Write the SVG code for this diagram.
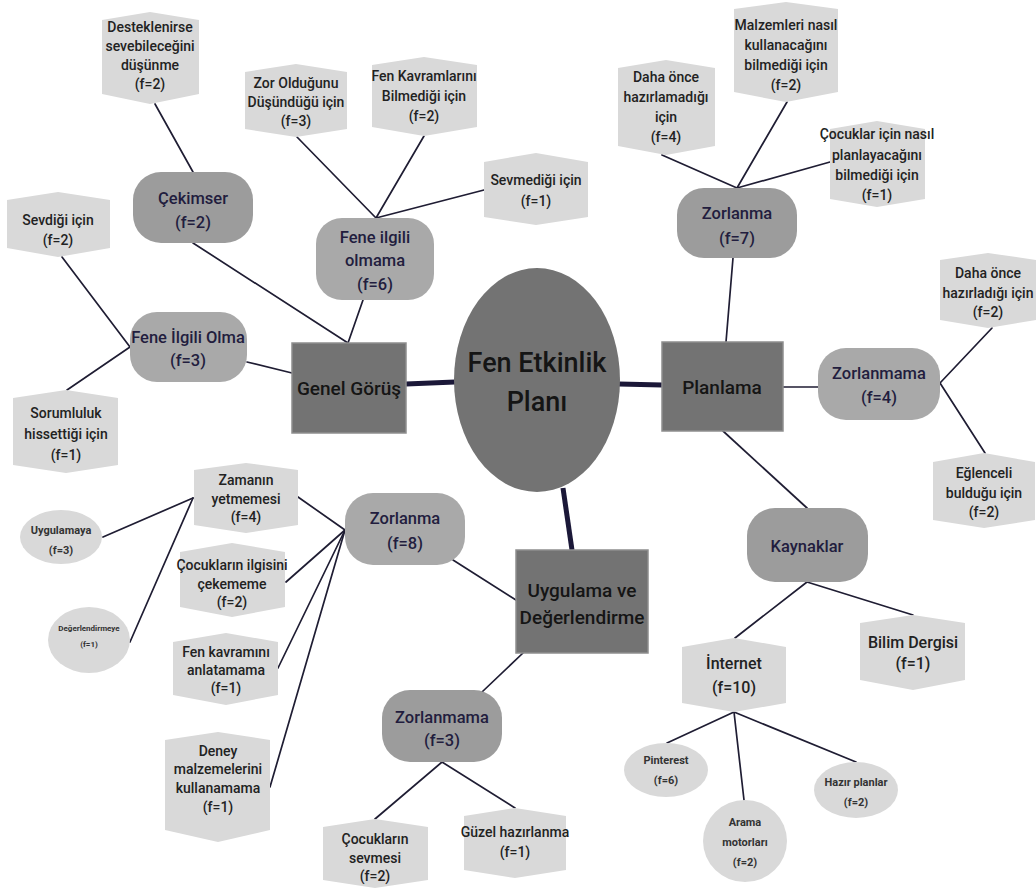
<svg xmlns="http://www.w3.org/2000/svg" width="1036" height="890" viewBox="0 0 1036 890">
<style>
text{font-family:Roboto,"Liberation Sans",Arial,sans-serif;text-anchor:middle;dominant-baseline:central}
.hx{fill:#d9d9d9}
.hx-t{font-size:14px;font-weight:500;fill:#222}
.big-t{font-size:16px;font-weight:500;fill:#222}
.rr1{fill:#9c9c9c}
.rr2{fill:#a9a9a9}
.rr-t{font-size:16.5px;font-weight:500;fill:#221d3e}
.bx{fill:#737373;stroke:#8e8e8e;stroke-width:1.5}
.bx-t{font-size:19px;font-weight:500;fill:#151515}
.ce-t{font-size:27px;font-weight:500;fill:#151515}
.el{fill:#d9d9d9}
.el-t{font-size:11px;font-weight:700;fill:#333}
.ln{stroke:#1f1d33;stroke-width:1.7;fill:none;stroke-linecap:round}
.tk{stroke:#1b1838;stroke-width:5;fill:none}
</style>
<rect width="1036" height="890" fill="#ffffff"/>
<g id="connectors">
<line class="ln" x1="155" y1="104" x2="193" y2="172"/>
<line class="ln" x1="193" y1="243" x2="348" y2="343"/>
<line class="ln" x1="363" y1="300" x2="348" y2="343"/>
<line class="ln" x1="297" y1="137" x2="376" y2="218"/>
<line class="ln" x1="424" y1="136" x2="376" y2="218"/>
<line class="ln" x1="484" y1="190" x2="376" y2="218"/>
<line class="ln" x1="62" y1="257" x2="130" y2="347"/>
<line class="ln" x1="130" y1="347" x2="67" y2="390"/>
<line class="ln" x1="247" y1="362" x2="292" y2="373"/>
<line class="ln" x1="662" y1="155" x2="737" y2="188"/>
<line class="ln" x1="787" y1="102" x2="737" y2="188"/>
<line class="ln" x1="830" y1="162" x2="737" y2="188"/>
<line class="ln" x1="733" y1="258" x2="726" y2="342"/>
<line class="ln" x1="783" y1="387" x2="818" y2="387"/>
<line class="ln" x1="940" y1="383" x2="992" y2="328"/>
<line class="ln" x1="940" y1="383" x2="985" y2="453"/>
<line class="ln" x1="723" y1="431" x2="807" y2="508"/>
<line class="ln" x1="807" y1="582" x2="735" y2="638"/>
<line class="ln" x1="807" y1="582" x2="913" y2="615"/>
<line class="ln" x1="734" y1="712" x2="667" y2="743"/>
<line class="ln" x1="734" y1="712" x2="744" y2="800"/>
<line class="ln" x1="734" y1="712" x2="856" y2="762"/>
<line class="ln" x1="453" y1="560" x2="516" y2="600"/>
<line class="ln" x1="523" y1="653" x2="482" y2="692"/>
<line class="ln" x1="442" y1="762" x2="375" y2="819"/>
<line class="ln" x1="442" y1="762" x2="515" y2="808"/>
<line class="ln" x1="103" y1="537" x2="193" y2="498"/>
<line class="ln" x1="130" y1="642" x2="193" y2="498"/>
<line class="ln" x1="298" y1="497" x2="345" y2="530"/>
<line class="ln" x1="286" y1="582" x2="345" y2="530"/>
<line class="ln" x1="278" y1="668" x2="345" y2="530"/>
<line class="ln" x1="270" y1="787" x2="345" y2="530"/>
<line class="tk" x1="406" y1="384" x2="455" y2="382"/>
<line class="tk" x1="619" y1="384" x2="662" y2="385"/>
<line class="tk" x1="563" y1="488" x2="572" y2="550"/>
</g>

<g id="center">
<ellipse cx="537" cy="380" rx="83" ry="112" fill="#737373"/>
<text class="ce-t" x="537" y="363">Fen Etkinlik</text>
<text class="ce-t" x="537" y="402">Planı</text>
</g>

<g id="genel-gorus">
<rect class="bx" x="292" y="343" width="114" height="90"/>
<text class="bx-t" x="349" y="388">Genel Görüş</text>
</g>
<g id="planlama">
<rect class="bx" x="662" y="342" width="121" height="89"/>
<text class="bx-t" x="722" y="387">Planlama</text>
</g>
<g id="uygulama">
<rect class="bx" x="516" y="550" width="132" height="103"/>
<text class="bx-t" x="582" y="590">Uygulama ve</text>
<text class="bx-t" x="582" y="617">Değerlendirme</text>
</g>

<g id="cekimser">
<rect class="rr1" x="133" y="172" width="120" height="71" rx="28"/>
<text class="rr-t" x="193" y="198">Çekimser</text>
<text class="rr-t" x="193" y="222">(f=2)</text>
</g>
<g id="fene-ilgili-olmama">
<rect class="rr2" x="316" y="218" width="118" height="82" rx="26"/>
<text class="rr-t" x="375" y="237">Fene ilgili</text>
<text class="rr-t" x="375" y="260">olmama</text>
<text class="rr-t" x="375" y="284">(f=6)</text>
</g>
<g id="fene-ilgili-olma">
<rect class="rr2" x="130" y="312" width="117" height="70" rx="27"/>
<text class="rr-t" x="188" y="337">Fene İlgili Olma</text>
<text class="rr-t" x="188" y="360">(f=3)</text>
</g>
<g id="zorlanma-7">
<rect class="rr1" x="677" y="188" width="120" height="70" rx="27"/>
<text class="rr-t" x="737" y="213">Zorlanma</text>
<text class="rr-t" x="737" y="238">(f=7)</text>
</g>
<g id="zorlanmama-4">
<rect class="rr2" x="818" y="348" width="122" height="72" rx="28"/>
<text class="rr-t" x="879" y="373">Zorlanmama</text>
<text class="rr-t" x="879" y="397">(f=4)</text>
</g>
<g id="kaynaklar">
<rect class="rr1" x="747" y="508" width="121" height="74" rx="28"/>
<text class="rr-t" x="807" y="546">Kaynaklar</text>
</g>
<g id="zorlanma-8">
<rect class="rr2" x="345" y="493" width="120" height="72" rx="28"/>
<text class="rr-t" x="405" y="518">Zorlanma</text>
<text class="rr-t" x="405" y="543">(f=8)</text>
</g>
<g id="zorlanmama-3">
<rect class="rr1" x="382" y="690" width="120" height="72" rx="28"/>
<text class="rr-t" x="442" y="717">Zorlanmama</text>
<text class="rr-t" x="442" y="740">(f=3)</text>
</g>

<g id="desteklenirse">
<polygon class="hx" points="102,20 150,12 199,20 199,94 150,104 102,94"/>
<text class="hx-t" x="150" y="27">Desteklenirse</text>
<text class="hx-t" x="150" y="46">sevebileceğini</text>
<text class="hx-t" x="150" y="65">düşünme</text>
<text class="hx-t" x="150" y="84">(f=2)</text>
</g>
<g id="zor-oldugunu">
<polygon class="hx" points="245,72 296,64 347,72 347,129 296,137 245,129"/>
<text class="hx-t" x="296" y="83">Zor Olduğunu</text>
<text class="hx-t" x="296" y="102">Düşündüğü için</text>
<text class="hx-t" x="296" y="121">(f=3)</text>
</g>
<g id="fen-kavramlarini">
<polygon class="hx" points="372,65 424,57 477,65 477,127 424,136 372,127"/>
<text class="hx-t" x="424" y="76">Fen Kavramlarını</text>
<text class="hx-t" x="424" y="96">Bilmediği için</text>
<text class="hx-t" x="424" y="116">(f=2)</text>
</g>
<g id="sevmedigi">
<polygon class="hx" points="484,162 536,153 588,162 588,217 536,225 484,217"/>
<text class="hx-t" x="536" y="180">Sevmediği için</text>
<text class="hx-t" x="536" y="201">(f=1)</text>
</g>
<g id="sevdigi">
<polygon class="hx" points="7,200 58,192 110,200 110,248 58,257 7,248"/>
<text class="hx-t" x="58" y="220">Sevdiği için</text>
<text class="hx-t" x="58" y="240">(f=2)</text>
</g>
<g id="sorumluluk">
<polygon class="hx" points="13,398 66,390 118,398 118,465 66,473 13,465"/>
<text class="hx-t" x="66" y="413">Sorumluluk</text>
<text class="hx-t" x="66" y="434">hissettiği için</text>
<text class="hx-t" x="66" y="455">(f=1)</text>
</g>
<g id="malzemleri">
<polygon class="hx" points="734,9 786,2 838,9 838,92 786,102 734,92"/>
<text class="hx-t" x="786" y="25">Malzemleri nasıl</text>
<text class="hx-t" x="786" y="45">kullanacağını</text>
<text class="hx-t" x="786" y="65">bilmediği için</text>
<text class="hx-t" x="786" y="85">(f=2)</text>
</g>
<g id="daha-once-hazirlamadigi">
<polygon class="hx" points="618,68 666,60 715,68 715,146 666,155 618,146"/>
<text class="hx-t" x="666" y="77">Daha önce</text>
<text class="hx-t" x="666" y="97">hazırlamadığı</text>
<text class="hx-t" x="666" y="117">için</text>
<text class="hx-t" x="666" y="137">(f=4)</text>
</g>
<g id="cocuklar-icin-nasil">
<polygon class="hx" points="830,129 877,121 925,129 925,199 877,207 830,199"/>
<text class="hx-t" x="877" y="134">Çocuklar için nasıl</text>
<text class="hx-t" x="877" y="155">planlayacağını</text>
<text class="hx-t" x="877" y="175">bilmediği için</text>
<text class="hx-t" x="877" y="195">(f=1)</text>
</g>
<g id="daha-once-hazirladigi">
<polygon class="hx" points="940,260 988,253 1036,260 1036,320 988,328 940,320"/>
<text class="hx-t" x="988" y="273">Daha önce</text>
<text class="hx-t" x="988" y="293">hazırladığı için</text>
<text class="hx-t" x="988" y="312">(f=2)</text>
</g>
<g id="eglenceli">
<polygon class="hx" points="933,462 984,453 1035,462 1035,520 984,528 933,520"/>
<text class="hx-t" x="984" y="473">Eğlenceli</text>
<text class="hx-t" x="984" y="493">bulduğu için</text>
<text class="hx-t" x="984" y="512">(f=2)</text>
</g>
<g id="internet">
<polygon class="hx" points="682,647 734,638 786,647 786,703 734,712 682,703"/>
<text class="big-t" x="734" y="663">İnternet</text>
<text class="big-t" x="734" y="687">(f=10)</text>
</g>
<g id="bilim-dergisi">
<polygon class="hx" points="860,623 913,615 965,623 965,680 913,690 860,680"/>
<text class="big-t" x="913" y="642">Bilim Dergisi</text>
<text class="big-t" x="913" y="663">(f=1)</text>
</g>
<g id="zamanin">
<polygon class="hx" points="194,470 246,463 298,470 298,525 246,533 194,525"/>
<text class="hx-t" x="246" y="480">Zamanın</text>
<text class="hx-t" x="246" y="499">yetmemesi</text>
<text class="hx-t" x="246" y="517">(f=4)</text>
</g>
<g id="cocuklarin-ilgisini">
<polygon class="hx" points="180,552 232,543 285,552 285,607 232,617 180,607"/>
<text class="hx-t" x="232" y="565">Çocukların ilgisini</text>
<text class="hx-t" x="232" y="584">çekememe</text>
<text class="hx-t" x="232" y="602">(f=2)</text>
</g>
<g id="fen-kavramini">
<polygon class="hx" points="173,642 226,633 278,642 278,695 226,705 173,695"/>
<text class="hx-t" x="226" y="652">Fen kavramını</text>
<text class="hx-t" x="226" y="670">anlatamama</text>
<text class="hx-t" x="226" y="688">(f=1)</text>
</g>
<g id="deney">
<polygon class="hx" points="165,740 218,732 270,740 270,830 218,842 165,830"/>
<text class="hx-t" x="218" y="751">Deney</text>
<text class="hx-t" x="218" y="769">malzemelerini</text>
<text class="hx-t" x="218" y="788">kullanamama</text>
<text class="hx-t" x="218" y="807">(f=1)</text>
</g>
<g id="cocuklarin-sevmesi">
<polygon class="hx" points="323,827 375,819 428,827 428,880 375,888 323,880"/>
<text class="hx-t" x="375" y="839">Çocukların</text>
<text class="hx-t" x="375" y="858">sevmesi</text>
<text class="hx-t" x="375" y="876">(f=2)</text>
</g>
<g id="guzel-hazirlanma">
<polygon class="hx" points="464,816 515,808 566,816 566,870 515,878 464,870"/>
<text class="hx-t" x="515" y="832">Güzel hazırlanma</text>
<text class="hx-t" x="515" y="852">(f=1)</text>
</g>

<g id="uygulamaya">
<ellipse class="el" cx="61" cy="537" rx="41" ry="27"/>
<text class="el-t" x="61" y="530">Uygulamaya</text>
<text class="el-t" x="61" y="550">(f=3)</text>
</g>
<g id="degerlendirmeye">
<ellipse class="el" cx="89" cy="640" rx="41" ry="33"/>
<text class="el-t" x="89" y="628" style="font-size:8px">Değerlendirmeye</text>
<text class="el-t" x="89" y="644" style="font-size:8px">(f=1)</text>
</g>
<g id="pinterest">
<ellipse class="el" cx="666" cy="770" rx="42" ry="27"/>
<text class="el-t" x="666" y="760">Pinterest</text>
<text class="el-t" x="666" y="780">(f=6)</text>
</g>
<g id="arama-motorlari">
<ellipse class="el" cx="745" cy="841" rx="42" ry="41"/>
<text class="el-t" x="745" y="822">Arama</text>
<text class="el-t" x="745" y="842">motorları</text>
<text class="el-t" x="745" y="862">(f=2)</text>
</g>
<g id="hazir-planlar">
<ellipse class="el" cx="856" cy="790" rx="42" ry="28"/>
<text class="el-t" x="856" y="782">Hazır planlar</text>
<text class="el-t" x="856" y="802">(f=2)</text>
</g>
</svg>
